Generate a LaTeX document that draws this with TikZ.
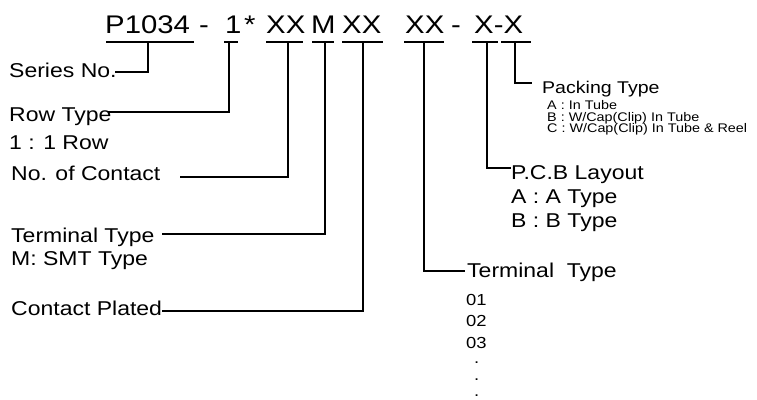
\documentclass[tikz,border=0pt]{standalone}
\usepackage{fontspec}
\setmainfont{Liberation Sans}[FakeStretch=1.15]
\begin{document}
\begin{tikzpicture}[x=1pt,y=-1pt,
  txt/.style={inner sep=0pt, anchor=base west},
  ttl/.style={txt, font=\fontsize{25.5}{25.5}\selectfont},
  big/.style={txt, font=\fontsize{20}{20}\selectfont},
  mid/.style={txt, font=\fontsize{17}{17}\selectfont},
  sml/.style={txt, font=\fontsize{12.5}{12.5}\selectfont},
  num/.style={txt, font=\fontsize{16}{16}\selectfont},
  ln/.style={line width=1.8pt, line cap=rect},
  lk/.style={line width=1.8pt}]
\useasboundingbox (0,0) rectangle (757,399);
% title tokens
\node[ttl] (tP) at (105,33) {P1034};
\node[ttl] (tD1) at (199,33) {-};
\node[ttl] (t1) at (225,33) {1};
\node[ttl] (tS) at (244,33) {*};
\node[ttl] (tX1) at (266,33) {XX};
\node[ttl] (tM) at (311,33) {M};
\node[ttl] (tX2) at (342,33) {XX};
\node[ttl] (tX3) at (405,33) {XX};
\node[ttl] (tD2) at (451,33) {-};
\node[ttl] (tX4) at (474,33) {X-X};
% underlines
\coordinate (a1) at (107,42); \coordinate (b1) at (193,42);
\coordinate (a2) at (225,42); \coordinate (b2) at (237,42);
\coordinate (a3) at (267,42); \coordinate (b3) at (302,42);
\coordinate (a4) at (313,42); \coordinate (b4) at (333,42);
\coordinate (a5) at (343,42); \coordinate (b5) at (382,42);
\coordinate (a6) at (405,42); \coordinate (b6) at (443,42);
\coordinate (a7) at (473,42); \coordinate (b7) at (497,42);
\coordinate (a8) at (502,42); \coordinate (b8) at (530,42);
\foreach \i in {1,...,8} \draw[ln] (a\i) -- (b\i);
% left labels
\node[big] (series) at (9,77) {Series No.};
\node[big] (row) at (9,121) {Row Type};
\node[big] (row1) at (9,149) {1 : 1 Row};
\node[big] (contact) at (11,180) {No. of Contact};
\node[big] (term) at (11,242) {Terminal Type};
\node[big] (smt) at (11,265) {M: SMT Type};
\node[big] (plated) at (11,315) {Contact Plated};
% right labels
\node[big] (term2) at (467,277) {Terminal\ \ Type};
\node[num] (n1) at (466,305) {01};
\node[num] (n2) at (466,326) {02};
\node[num] (n3) at (466,348) {03};
\node[num] (d1) at (474,363) {.};
\node[num] (d2) at (474,380) {.};
\node[num] (d3) at (474,396.5) {.};
\node[mid] (pack) at (542,93) {Packing Type};
\node[sml] (pA) at (547,109.5) {A : In Tube};
\node[sml] (pB) at (547,121) {B : W/Cap(Clip) In Tube};
\node[sml] (pC) at (547,132) {C : W/Cap(Clip) In Tube \& Reel};
\node[big] (pcb) at (511,179) {P.C.B Layout};
\node[big] (pcbA) at (511,203) {A : A Type};
\node[big] (pcbB) at (511,227) {B : B Type};
% connectors
\coordinate (v1) at (148,42);  \coordinate (e1) at (115,72);
\coordinate (v2) at (229,42);  \coordinate (e2) at (108,112);
\coordinate (v3) at (288,42);  \coordinate (e3) at (180,177);
\coordinate (v4) at (325,42);  \coordinate (e4) at (162,234);
\coordinate (v5) at (363,42);  \coordinate (e5) at (162,311);
\coordinate (v6) at (424,42);  \coordinate (e6) at (465,271);
\coordinate (v7) at (487,42);  \coordinate (e7) at (511,168);
\coordinate (v8) at (515,42);  \coordinate (e8) at (532,83);
\foreach \i in {1,...,8} \draw[lk] (v\i) |- (e\i);
\end{tikzpicture}
\end{document}
